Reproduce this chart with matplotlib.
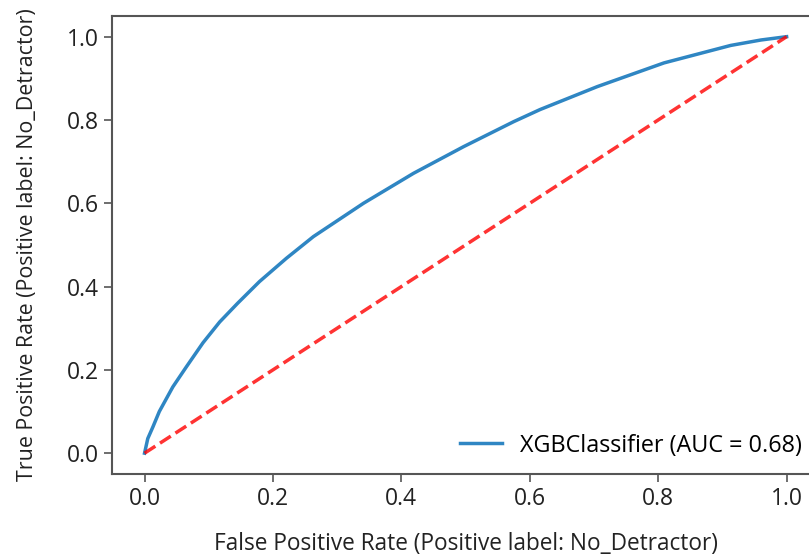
import matplotlib.pyplot as plt

plt.rcParams['font.family'] = ['Open Sans', 'DejaVu Sans']

# ROC curve
fpr = [0.0, 0.005, 0.013, 0.023, 0.044, 0.065, 0.091, 0.117, 0.145, 0.179, 0.221,
       0.263, 0.341, 0.419, 0.497, 0.575, 0.616, 0.705, 0.809, 0.913, 0.96, 1.0]
tpr = [0.0, 0.035, 0.063, 0.100, 0.159, 0.207, 0.265, 0.315, 0.360, 0.412, 0.468,
       0.520, 0.600, 0.672, 0.736, 0.796, 0.825, 0.880, 0.937, 0.979, 0.992, 1.0]
label = 'XGBClassifier (AUC = 0.68)'
xticks = [0.0, 0.2, 0.4, 0.6, 0.8, 1.0]
yticks = [0.0, 0.2, 0.4, 0.6, 0.8, 1.0]

fig = plt.figure(figsize=(8.09, 5.56), dpi=100)
ax = fig.add_axes([0.139, 0.1475, 0.873, 0.824])

ax.plot(fpr, tpr, color='#2f86c3', lw=2.5, label=label)
ax.plot([0, 1], [0, 1], 'r--', lw=2.5, alpha=0.8)

ax.set_xlim(-0.05, 1.05)
ax.set_ylim(-0.05, 1.05)
ax.set_xticks(xticks)
ax.set_yticks(yticks)
ax.tick_params(labelsize=16.5, length=6, width=1.2, color='#555555', labelcolor='#222222')
for s in ax.spines.values():
    s.set_color('#555555')
    s.set_linewidth(1.5)

ax.set_xlabel('False Positive Rate (Positive label: No_Detractor)', fontsize=16.3,
              color='#222222', labelpad=15)
ax.set_ylabel('True Positive Rate (Positive label: No_Detractor)', fontsize=15.4,
              color='#222222', labelpad=21)

leg = ax.legend(loc='lower right', fontsize=16.8, frameon=True, handlelength=1.8,
                borderaxespad=0.3)
leg.get_frame().set_edgecolor('white')

fig.savefig('out.png', dpi=100)
